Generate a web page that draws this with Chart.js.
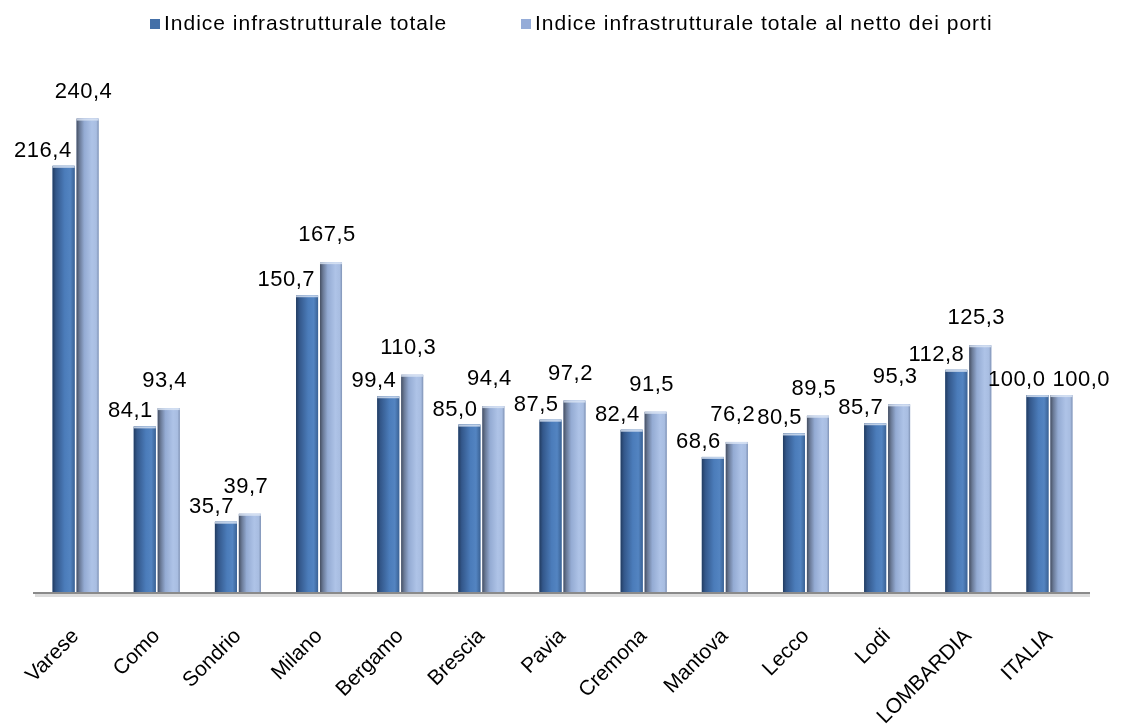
<!DOCTYPE html>
<html>
<head>
<meta charset="utf-8">
<script src="https://cdn.jsdelivr.net/npm/chart.js@4.4.1/dist/chart.umd.min.js"></script>
<style>
  html, body { margin: 0; padding: 0; background: #fff; }
  canvas { display: block; }
</style>
</head>
<body>
<canvas id="chart" width="1126" height="725"></canvas>
<script>
const categories = ["Varese", "Como", "Sondrio", "Milano", "Bergamo", "Brescia", "Pavia", "Cremona", "Mantova", "Lecco", "Lodi", "LOMBARDIA", "ITALIA"];
const indiceTotale = [216.4, 84.1, 35.7, 150.7, 99.4, 85.0, 87.5, 82.4, 68.6, 80.5, 85.7, 112.8, 100.0];
const indiceNettoPorti = [240.4, 93.4, 39.7, 167.5, 110.3, 94.4, 97.2, 91.5, 76.2, 89.5, 95.3, 125.3, 100.0];
const seriesNames = ["Indice infrastrutturale totale", "Indice infrastrutturale totale al netto dei porti"];

const FONT = "'Liberation Sans', Arial, sans-serif";

const barStops = [
  [[0, "#223c61"], [0.15, "#33578a"], [0.55, "#4b7cba"], [0.8, "#5384c1"], [1, "#3a6295"]],
  [[0, "#465063"], [0.14, "#6b7b98"], [0.35, "#94abd3"], [0.7, "#aec3e7"], [0.9, "#a8bde1"], [1, "#7f92b4"]],
];

const fmt = (v) => v.toFixed(1).replace(".", ",");

// cylinder shading, axis line, value labels and legend
const excelLookPlugin = {
  id: "excelLook",
  afterDatasetsDraw(chart) {
    const { ctx, chartArea } = chart;

    chart.data.datasets.forEach((ds, di) => {
      const meta = chart.getDatasetMeta(di);
      meta.data.forEach((bar) => {
        const { x, y, base, width } = bar.getProps(["x", "y", "base", "width"], true);
        const left = x - width / 2;
        const g = ctx.createLinearGradient(left, 0, left + width, 0);
        barStops[di].forEach(([o, c]) => g.addColorStop(o, c));
        ctx.save();
        ctx.fillStyle = g;
        ctx.fillRect(left, y, width, base - y);
        ctx.fillStyle = "rgba(220,230,245,0.8)";
        ctx.fillRect(left, y, width, 2);
        ctx.restore();
      });
    });

    // axis line with soft shadow
    ctx.save();
    ctx.fillStyle = "#dcdcdc";
    ctx.fillRect(chartArea.left, chartArea.bottom + 2, chartArea.right - chartArea.left, 3);
    ctx.fillStyle = "#8a8a8a";
    ctx.fillRect(chartArea.left - 2, chartArea.bottom, chartArea.right - chartArea.left + 2, 2);
    ctx.restore();

    // value labels: dark series right-aligned, light series centred and higher;
    // a light label that would hit its neighbour goes beside it instead
    ctx.save();
    ctx.font = `22px ${FONT}`;
    ctx.letterSpacing = "0.5px";
    ctx.fillStyle = "#000";
    ctx.textBaseline = "alphabetic";
    const darkMeta = chart.getDatasetMeta(0);
    const lightMeta = chart.getDatasetMeta(1);
    const darkData = chart.data.datasets[0].data;
    const lightData = chart.data.datasets[1].data;
    darkMeta.data.forEach((bar, i) => {
      const d = bar.getProps(["x", "y", "width"], true);
      const l = lightMeta.data[i].getProps(["x", "y", "width"], true);
      const dText = fmt(darkData[i]);
      const lText = fmt(lightData[i]);
      const dRight = d.x + d.width / 2 - 3;
      const dBase = d.y - 9;
      ctx.textAlign = "right";
      ctx.fillText(dText, dRight, dBase);

      const lw = ctx.measureText(lText).width;
      const lBase = l.y - 21;
      const lLeft = l.x - 4 - lw / 2;
      if (lLeft < dRight + 4 && lBase > dBase - 18) {
        ctx.textAlign = "left";
        ctx.fillText(lText, dRight + 7, dBase);
      } else {
        ctx.textAlign = "center";
        ctx.fillText(lText, l.x - 4, lBase);
      }
    });
    ctx.restore();

    // legend
    ctx.save();
    ctx.font = `21px ${FONT}`;
    ctx.letterSpacing = "1px";
    ctx.textBaseline = "middle";
    ctx.textAlign = "left";
    const legendX = [150, 521];
    chart.data.datasets.forEach((ds, di) => {
      ctx.fillStyle = ds.backgroundColor;
      ctx.fillRect(legendX[di], 19, 10, 10);
      ctx.fillStyle = "#000";
      ctx.fillText(ds.label, legendX[di] + 14, 24);
    });
    ctx.restore();
  },
};

new Chart(document.getElementById("chart"), {
  type: "bar",
  data: {
    labels: categories,
    datasets: [
      { label: seriesNames[0], data: indiceTotale, backgroundColor: "#4470a8" },
      { label: seriesNames[1], data: indiceNettoPorti, backgroundColor: "#95acd8" },
    ],
  },
  options: {
    responsive: false,
    animation: false,
    layout: { padding: { top: 80, left: 35, right: 36, bottom: 0 } },
    datasets: {
      bar: { categoryPercentage: 0.59, barPercentage: 0.92 },
    },
    plugins: {
      legend: { display: false },
      tooltip: { enabled: false },
    },
    scales: {
      x: {
        grid: { display: false, drawTicks: false },
        border: { display: false },
        ticks: {
          minRotation: 45,
          maxRotation: 45,
          padding: 32,
          color: "#000",
          font: { family: FONT, size: 21 },
        },
        afterFit(scale) {
          scale.height = 133;
          scale.paddingLeft = 0;
          scale.paddingRight = 0;
        },
      },
      y: {
        display: false,
        min: 0,
        max: 260,
      },
    },
  },
  plugins: [excelLookPlugin],
});
</script>
</body>
</html>
